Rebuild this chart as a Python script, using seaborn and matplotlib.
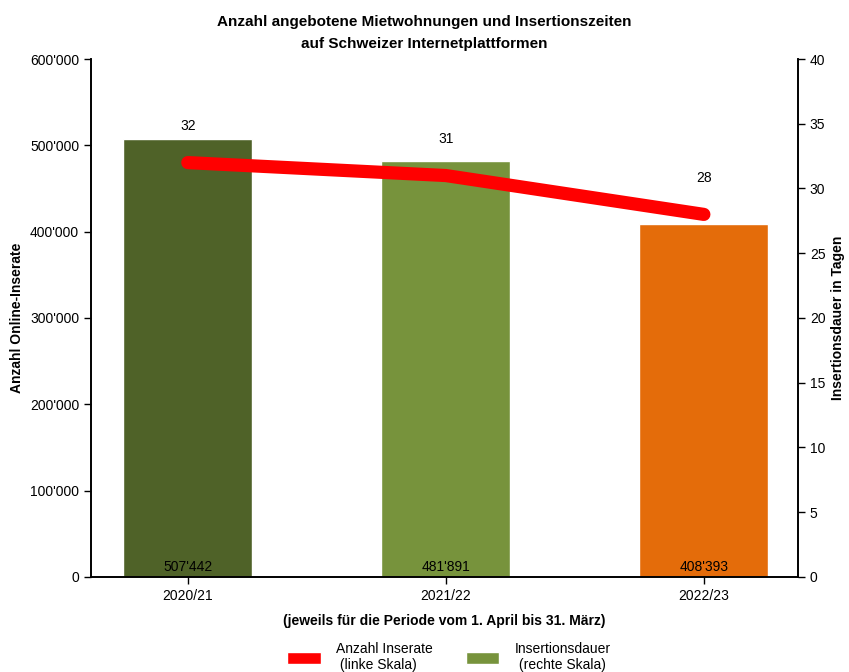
import matplotlib
matplotlib.use("Agg")
import matplotlib.pyplot as plt
import seaborn as sns
import pandas as pd
from matplotlib.patches import Patch
from matplotlib.ticker import FuncFormatter

periods = ["2020/21", "2021/22", "2022/23"]
inserate = [507442, 481891, 408393]
dauer = [32, 31, 28]
bar_colors = ["#4F6228", "#77933C", "#E46C0A"]

sns.set_theme(style="white")
plt.rcParams["font.family"] = ["Liberation Sans", "DejaVu Sans"]
plt.rcParams["text.color"] = "black"
plt.rcParams["axes.labelcolor"] = "black"
plt.rcParams["xtick.color"] = "black"
plt.rcParams["ytick.color"] = "black"

df = pd.DataFrame({"period": periods, "inserate": inserate, "dauer": dauer})

fig = plt.figure(figsize=(8.49, 6.72), dpi=100)
ax = fig.add_axes([0.1072, 0.1414, 0.8328, 0.7708])

sns.barplot(data=df, x="period", y="inserate", hue="period", palette=bar_colors,
            width=0.5, ax=ax, legend=False, saturation=1)
ax.set_ylim(0, 600000)
ax.set_xlim(-0.375, 2.365)
ax.set_yticks(range(0, 600001, 100000))
ax.yaxis.set_major_formatter(FuncFormatter(lambda v, p: f"{int(v):,}".replace(",", "'")))
ax.set_ylabel("Anzahl Online-Inserate", fontsize=10, fontweight="bold")
ax.set_xlabel("(jeweils für die Periode vom 1. April bis 31. März)", fontsize=10,
              fontweight="bold", labelpad=8)
ax.tick_params(axis="both", direction="out", length=5, width=1, colors="black",
               labelsize=10, left=True, bottom=True)
for s in ["left", "bottom", "right"]:
    ax.spines[s].set_color("black")
    ax.spines[s].set_linewidth(1.2)
ax.spines["top"].set_visible(False)

for i, v in enumerate(inserate):
    ax.annotate(f"{v:,}".replace(",", "'"), xy=(i, 0), xytext=(0, 2),
                textcoords="offset points", ha="center", va="bottom", fontsize=10,
                color="black")

ax2 = ax.twinx()
sns.lineplot(data=df, x="period", y="dauer", color="#FF0000", linewidth=9.5,
             ax=ax2, solid_capstyle="round", solid_joinstyle="round")
ax2.set_ylim(0, 40)
ax2.set_yticks(range(0, 41, 5))
ax2.set_ylabel("Insertionsdauer in Tagen", fontsize=10, fontweight="bold")
ax2.tick_params(axis="y", direction="out", length=5, width=1, colors="black",
                labelsize=10, right=True)
for s in ["left", "bottom", "right"]:
    ax2.spines[s].set_color("black")
    ax2.spines[s].set_linewidth(1.2)
ax2.spines["top"].set_visible(False)
ax2.set_xlim(-0.375, 2.365)

for i, v in enumerate(dauer):
    ax2.text(i, v + 2.8, f"{v}", ha="center", va="center", fontsize=10, color="black")

fig.suptitle("Anzahl angebotene Mietwohnungen und Insertionszeiten\nauf Schweizer Internetplattformen",
             fontsize=11, fontweight="bold", y=0.977, linespacing=1.7, color="black")

handles = [Patch(facecolor="#FF0000"), Patch(facecolor="#77933C")]
labels = ["Anzahl Inserate\n (linke Skala)", "Insertionsdauer\n (rechte Skala)"]
fig.legend(handles, labels, loc="center", bbox_to_anchor=(0.529, 0.022), ncol=2,
           frameon=False, fontsize=10, handlelength=2.4, handleheight=0.9,
           handletextpad=1.1, columnspacing=2.4)

fig.savefig("out.png", dpi=100)
